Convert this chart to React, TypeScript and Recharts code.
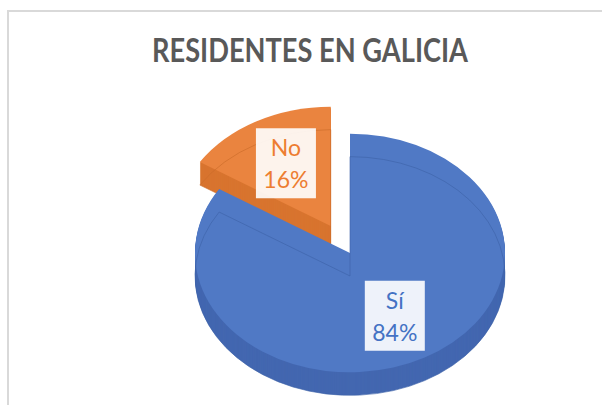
import React from "react";
import { PieChart, Pie, Cell } from "recharts";

const categories = ["Sí", "No"];
const shares = [84, 16];
const title = "RESIDENTES EN GALICIA";

const topColors = ["#5079c5", "#ea843f"];
const sideColors = ["#4367b0", "#d8742f"];
const edgeColors = ["#3d62a8", "#c96a28"];
const textColors = ["#4472c4", "#ed7d31"];

const W = 602;
const H = 405;
const CX = 350;
const CY = 253;
const R = 155;
const SY = 0.77; // vertical squash of the tilted pie
const DEPTH = 23;
const EXPLODE = 40;
const FONT = "Lato, 'Open Sans', sans-serif";

const data = categories.map((name, i) => ({ name, value: shares[i] }));
const total = shares.reduce((a, b) => a + b, 0);

// angle (deg) at the middle of the exploded "No" slice, Recharts convention
const noMid = 90 - (360 * (shares[0] + shares[1] / 2)) / total;
const noDx = EXPLODE * Math.cos((noMid * Math.PI) / 180);
const noDy = -EXPLODE * Math.sin((noMid * Math.PI) / 180);

const layers = Array.from({ length: DEPTH }, (_, i) => DEPTH - i);

const RAD = Math.PI / 180;

function makeLabel(only: number) {
  return (props: any) => {
    const { cx, cy, midAngle, outerRadius, index, name, percent } = props;
    if (index !== only) return null;
    const r = outerRadius * 0.6;
    const x = cx + r * Math.cos(-midAngle * RAD);
    const y = cy + r * Math.sin(-midAngle * RAD);
    return (
      <g transform={`translate(${x},${y}) scale(1,${1 / SY})`}>
        <rect x={-30} y={-35} width={60} height={70} fill="#ffffff" fillOpacity={0.9} />
        <text
          textAnchor="middle"
          fontFamily={FONT}
          fontSize={23}
          fill={textColors[index]}
        >
          <tspan x={0} y={-7}>{name}</tspan>
          <tspan x={0} y={25}>{`${Math.round(percent * 100)}%`}</tspan>
        </text>
      </g>
    );
  };
}

function slicePie(
  key: string,
  idx: number,
  cy: number,
  fills: string[],
  opts: { stroke?: string; fillNone?: boolean; label?: boolean } = {}
) {
  const dx = idx === 1 ? noDx : 0;
  const dy = idx === 1 ? noDy : 0;
  return (
    <Pie
      key={key}
      data={data}
      dataKey="value"
      nameKey="name"
      cx={CX + dx}
      cy={cy + dy}
      outerRadius={R}
      startAngle={90}
      endAngle={-270}
      stroke="none"
      isAnimationActive={false}
      label={opts.label ? makeLabel(idx) : false}
      labelLine={false}
    >
      {data.map((_, i) => (
        <Cell
          key={i}
          fill={i === idx && !opts.fillNone ? fills[i] : "none"}
          stroke={i === idx && opts.stroke ? opts.stroke : "none"}
          strokeWidth={1}
          strokeOpacity={0.7}
        />
      ))}
    </Pie>
  );
}

export default function App() {
  return (
    <div style={{ position: "relative", width: W, height: H, overflow: "hidden", background: "#fff" }}>
      <style>{`body{margin:0}`}</style>
      <div
        style={{
          position: "absolute",
          left: 7,
          top: 10,
          width: 800,
          height: 600,
          border: "2px solid #d9d9d9",
        }}
      />
      <svg width={W} height={90} style={{ position: "absolute", left: 0, top: 0 }}>
        <text
          x={310}
          y={62}
          textAnchor="middle"
          fontFamily={FONT}
          fontWeight={700}
          fontSize={32}
          fill="#595959"
          textLength={316}
          lengthAdjust="spacingAndGlyphs"
        >
          {title}
        </text>
      </svg>
      <div
        style={{
          position: "absolute",
          left: 0,
          top: 0,
          transform: `scaleY(${SY})`,
          transformOrigin: `0px ${CY}px`,
        }}
      >
        <PieChart width={W} height={480} margin={{ top: 0, right: 0, bottom: 0, left: 0 }}>
          {[1, 0].map((idx) => [
            ...layers.map((k) => slicePie(`s${idx}-${k}`, idx, CY + k / SY, sideColors)),
            slicePie(`t${idx}`, idx, CY, topColors),
            slicePie(`e${idx}`, idx, CY + DEPTH / SY, topColors, { stroke: edgeColors[idx], fillNone: true }),
            slicePie(`l${idx}`, idx, CY, topColors, { fillNone: true, label: true }),
          ])}
        </PieChart>
      </div>
    </div>
  );
}
